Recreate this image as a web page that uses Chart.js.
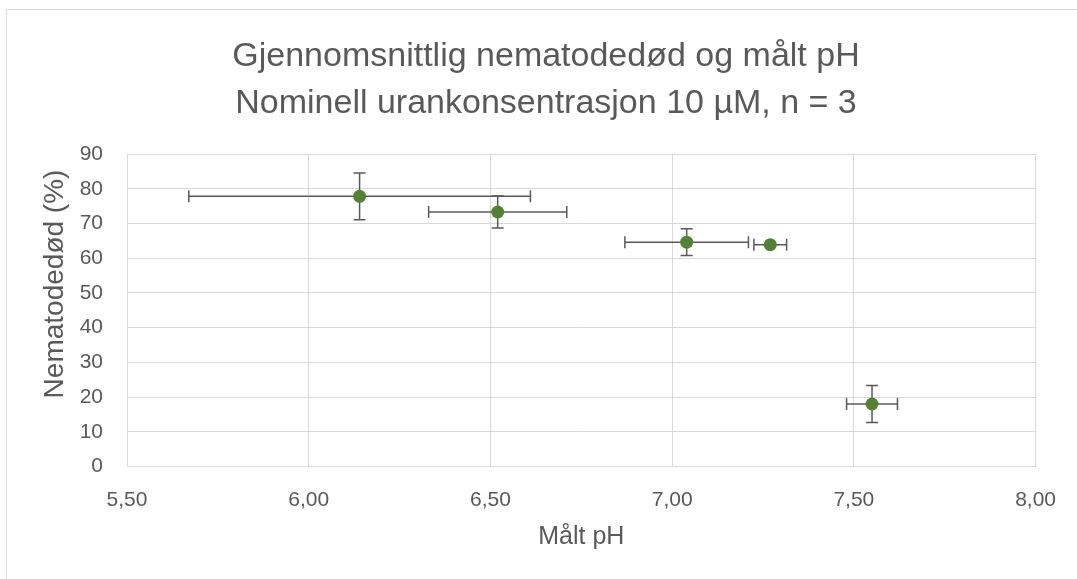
<!DOCTYPE html>
<html>
<head>
<meta charset="utf-8">
<script src="https://cdn.jsdelivr.net/npm/chart.js@4"></script>
<style>
  html, body { margin: 0; padding: 0; background: #fff; }
  #wrap { width: 1077px; height: 579px; position: relative; }
</style>
</head>
<body>
<div id="wrap"><canvas id="scatterChart" width="1077" height="579"></canvas></div>
<script>
// ===== DATA =====
const phValues = [6.14, 6.52, 7.04, 7.27, 7.55];
const deathValues = [77.8, 73.3, 64.6, 63.9, 18.0];
const phErrors = [0.47, 0.19, 0.17, 0.045, 0.07];
const deathErrors = [6.7, 4.6, 3.85, 0.3, 5.3];
const titleLines = ['Gjennomsnittlig nematodedød og målt pH', 'Nominell urankonsentrasjon 10 µM, n = 3'];
const yAxisTitle = 'Nematodedød (%)';

const FONT = "'Liberation Sans', Arial, sans-serif";
const GREY_TEXT = '#595959';

// Outer chart border, chart title and y-axis title (Excel places these freely)
const framePlugin = {
    id: 'frame',
    beforeDraw(chart) {
        const ctx = chart.ctx;
        ctx.save();
        ctx.fillStyle = '#fff';
        ctx.fillRect(0, 0, chart.width, chart.height);
        ctx.strokeStyle = '#d9d9d9';
        ctx.lineWidth = 1;
        ctx.strokeRect(6.5, 9.5, 1080, 600);
        ctx.restore();
    },
    afterDraw(chart) {
        const ctx = chart.ctx;
        ctx.save();
        ctx.fillStyle = GREY_TEXT;
        ctx.textAlign = 'center';
        ctx.textBaseline = 'alphabetic';
        ctx.font = '34px ' + FONT;
        ctx.fillText(titleLines[0], 546, 66);
        ctx.fillText(titleLines[1], 546, 113);
        // y-axis title, rotated
        ctx.translate(63, 284);
        ctx.rotate(-Math.PI / 2);
        ctx.font = '28px ' + FONT;
        ctx.fillText(yAxisTitle, 0, 0);
        ctx.restore();
    }
};

// Error bars in both directions, drawn under the markers
const errorBarPlugin = {
    id: 'errorBars',
    beforeDatasetsDraw(chart) {
        const ctx = chart.ctx;
        const xs = chart.scales.x;
        const ys = chart.scales.y;
        const cap = 6;
        ctx.save();
        ctx.strokeStyle = '#595959';
        ctx.lineWidth = 1.5;
        phValues.forEach((px, i) => {
            const py = deathValues[i];
            const cx = xs.getPixelForValue(px);
            const cy = ys.getPixelForValue(py);
            const x1 = xs.getPixelForValue(px - phErrors[i]);
            const x2 = xs.getPixelForValue(px + phErrors[i]);
            const y1 = ys.getPixelForValue(py + deathErrors[i]);
            const y2 = ys.getPixelForValue(py - deathErrors[i]);
            ctx.beginPath();
            ctx.moveTo(x1, cy); ctx.lineTo(x2, cy);
            ctx.moveTo(x1, cy - cap); ctx.lineTo(x1, cy + cap);
            ctx.moveTo(x2, cy - cap); ctx.lineTo(x2, cy + cap);
            ctx.moveTo(cx, y1); ctx.lineTo(cx, y2);
            ctx.moveTo(cx - cap, y1); ctx.lineTo(cx + cap, y1);
            ctx.moveTo(cx - cap, y2); ctx.lineTo(cx + cap, y2);
            ctx.stroke();
        });
        ctx.restore();
    }
};

const ctx = document.getElementById('scatterChart').getContext('2d');

new Chart(ctx, {
    type: 'scatter',
    data: {
        datasets: [{
            label: 'Nematodedød',
            data: phValues.map((x, i) => ({ x: x, y: deathValues[i] })),
            backgroundColor: '#548235',
            borderColor: '#548235',
            pointRadius: 6.5,
            pointHoverRadius: 6.5,
            borderWidth: 0
        }]
    },
    options: {
        responsive: false,
        animation: false,
        layout: { padding: { left: 0, right: 39, top: 154, bottom: 0 } },
        plugins: {
            legend: { display: false },
            tooltip: { enabled: false },
            title: { display: false }
        },
        scales: {
            x: {
                type: 'linear',
                min: 5.5,
                max: 8,
                afterFit(scale) { scale.height = 112.5; },
                grid: { color: '#d9d9d9', drawTicks: false },
                border: { color: '#d9d9d9' },
                ticks: {
                    stepSize: 0.5,
                    padding: 21,
                    color: GREY_TEXT,
                    font: { family: FONT, size: 21 },
                    callback: v => v.toFixed(2).replace('.', ',')
                },
                title: {
                    display: true,
                    text: 'Målt pH',
                    color: GREY_TEXT,
                    font: { family: FONT, size: 25 },
                    padding: { top: 0, bottom: 27 }
                }
            },
            y: {
                min: 0,
                max: 90,
                afterFit(scale) { scale.width = 127; },
                grid: { color: '#d9d9d9', drawTicks: false },
                border: { color: '#d9d9d9' },
                ticks: {
                    stepSize: 10,
                    padding: 24,
                    color: GREY_TEXT,
                    font: { family: FONT, size: 21 }
                },
                title: { display: false }
            }
        }
    },
    plugins: [framePlugin, errorBarPlugin]
});
</script>
</body>
</html>
